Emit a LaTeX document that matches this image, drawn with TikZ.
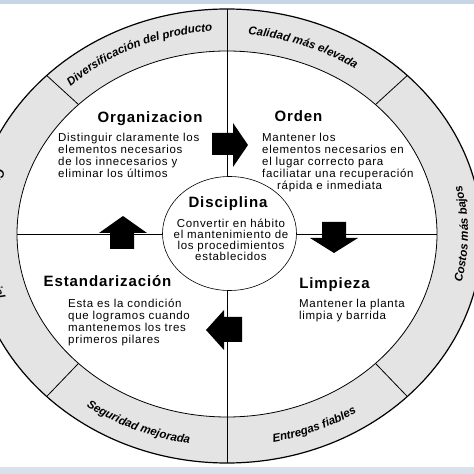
\documentclass[tikz,border=0pt]{standalone}
\usepackage{fontspec}
\setmainfont{Liberation Sans}
\newfontfamily\spaced{Liberation Sans}[LetterSpace=6]
\usepackage{tikz}
\usetikzlibrary{calc,shapes.geometric,decorations.text}

\definecolor{ringgray}{HTML}{E4E4E4}
\definecolor{bandblue}{HTML}{C6D6E6}

\begin{document}
\begin{tikzpicture}[
  x=1pt, y=1pt,
  title/.style={font=\spaced\bfseries\fontsize{15}{18}\selectfont, inner sep=0pt, anchor=base},
  body/.style={font=\spaced\fontsize{11.5}{12}\selectfont, align=left, inner sep=0pt, anchor=north west},
  ringtext/.style={decorate, decoration={text along path, text align=center,
    text={|\bfseries\itshape\fontsize{11.5}{12}\selectfont|#1}}},
  blockarrow/.style={fill=black}
]
\useasboundingbox (0,0) rectangle (474,474);
\fill[bandblue] (0,470) rectangle (474,474);
\fill[bandblue!70] (0,0) rectangle (474,7);

\coordinate (c) at (227,240);
\coordinate (co) at (227,238);

\draw[fill=ringgray, line width=1.2pt] (co) ellipse[x radius=255, y radius=227];
\draw[fill=white, line width=0.8pt] (c) ellipse[x radius=210, y radius=183];

\foreach \a in {45,135,-45,-135}
  \draw[line width=0.8pt] ($(c)+(\a:210 and 183)$) -- ($(co)+(\a:255 and 227)$);

\coordinate (north) at ($(co)+(90:255 and 227)$);
\coordinate (south) at ($(co)+(-90:255 and 227)$);
\coordinate (west) at ($(c)+(180:210 and 183)$);
\coordinate (east) at ($(c)+(0:210 and 183)$);
\draw[line width=0.7pt] (north) -- (south);
\draw[line width=0.7pt] (west) -- (east);

\node[draw, ellipse, fill=white, line width=0.6pt, minimum width=134pt, minimum height=114pt, inner sep=0pt] (disc) at (229.5,240.5) {};

\path[ringtext=Diversificación del producto] ($(c)+(134:228 and 203)$) arc[start angle=134, end angle=93, x radius=228, y radius=203];
\path[ringtext=Calidad más elevada] ($(c)+(88:226 and 200)$) arc[start angle=88, end angle=52, x radius=226, y radius=200];
\path[ringtext=Costos más bajos] ($(c)+(-25:241 and 212)$) arc[start angle=-25, end angle=25, x radius=241, y radius=212];
\path[ringtext=Entregas fiables] ($(c)+(-88:241 and 212)$) arc[start angle=-88, end angle=-48, x radius=241, y radius=212];
\path[ringtext=Seguridad mejorada] ($(c)+(-133:241 and 212)$) arc[start angle=-133, end angle=-92, x radius=241, y radius=212];
\path[ringtext=Crecimiento empresarial] ($(c)+(158:241 and 212)$) arc[start angle=158, end angle=202, x radius=241, y radius=212];

\node[title] (orga) at (150,351) {Organizacion};
\node[body] (orgatext) at (58,341) {Distinguir claramente los\\elementos necesarios\\de los innecesarios y\\eliminar los últimos};
\node[title] (orden) at (298.5,352) {Orden};
\node[body] (ordentext) at (262,341) {Mantener los\\elementos necesarios en\\el lugar correcto para\\faciliatar una recuperación\\\hspace*{15pt}rápida e inmediata};
\node[title] (limp) at (334.5,185) {Limpieza};
\node[body] (limptext) at (299,175) {Mantener la planta\\limpia y barrida};
\node[title] (estd) at (107.5,187) {Estandarización};
\node[body] (estdtext) at (68,175) {Esta es la condición\\que logramos cuando\\mantenemos los tres\\primeros pilares};
\node[title] (disci) at (228,266) {Disciplina};
\node[body, font=\spaced\fontsize{11.5}{11}\selectfont, align=center, anchor=north] (discitext) at (231,255) {Convertir en hábito\\el mantenimiento de\\los procedimientos\\establecidos};

\fill[blockarrow] (212,341) -- (233,341) -- (233,351) -- (248,329) -- (233,307) -- (233,319) -- (212,319) -- cycle;
\fill[blockarrow] (322,252) -- (346,252) -- (346,236) -- (358,236) -- (334,221) -- (310,236) -- (322,236) -- cycle;
\fill[blockarrow] (242,157) -- (224,157) -- (224,164) -- (206,144) -- (224,124) -- (224,132) -- (242,132) -- cycle;
\fill[blockarrow] (110,225) -- (110,241) -- (99,241) -- (123,258) -- (147,241) -- (134,241) -- (134,225) -- cycle;
\end{tikzpicture}
\end{document}
